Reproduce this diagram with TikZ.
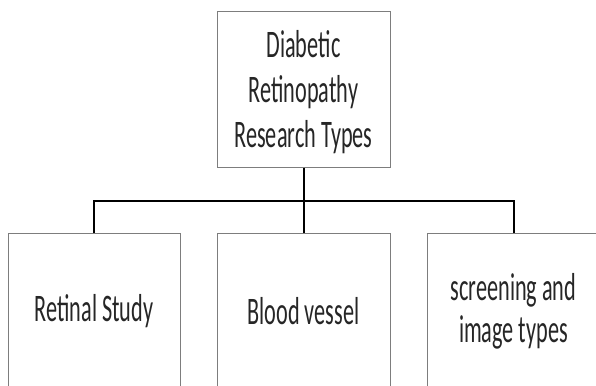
\documentclass[tikz,border=0pt]{standalone}
\usepackage{fontspec}
\setmainfont{Carlito}[FakeStretch=0.57]
\definecolor{boxgray}{RGB}{125,125,125}
\begin{document}
\begin{tikzpicture}[x=1pt,y=-1pt,
  box/.style={draw=boxgray, line width=1pt, fill=white, inner sep=0pt},
  lbl/.style={align=center, font=\fontsize{39}{45}\selectfont, inner sep=0pt, text=black!85},
  conn/.style={line width=2pt, black}]
\useasboundingbox (0,0) rectangle (596,385);
\clip (0,0) rectangle (596,385);
\node[box, minimum width=173pt, minimum height=155pt] (top) at (303.5,89.5) {};
\node[box, minimum width=172pt, minimum height=200pt] (b1) at (94,333) {};
\node[box, minimum width=173pt, minimum height=200pt] (b2) at (303.5,333) {};
\node[box, minimum width=173pt, minimum height=200pt] (b3) at (513.5,333) {};
\node[lbl] (t0) at (303.5,92) {Diabetic\\Retinopathy\\Research Types};
\node[lbl] (t1) at (94,311) {Retinal Study};
\node[lbl, font=\fontsize{39}{42}\selectfont] (t3) at (513.5,311) {screening and\\image types};
\node[lbl] (t2) at (303.5,311) {Blood vessel};
\coordinate (bus) at (303.5,200.5);
\draw[conn] (top.south) -- (b2.north);
\draw[conn] (b1.north) |- (bus) -| (b3.north);
\end{tikzpicture}
\end{document}
